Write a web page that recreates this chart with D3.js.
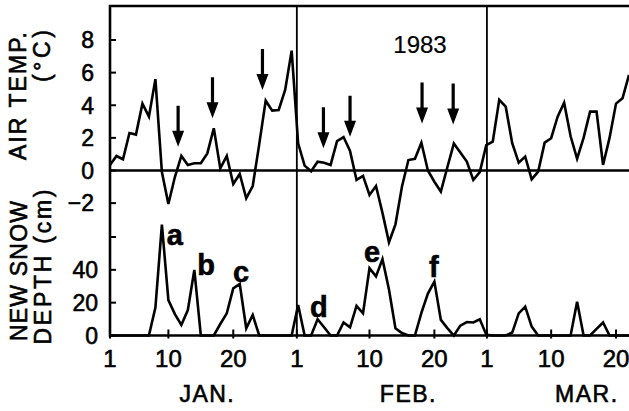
<!DOCTYPE html>
<html>
<head>
<meta charset="utf-8">
<script src="https://cdn.jsdelivr.net/npm/d3@7"></script>
<style>
  body { margin: 0; background: #fff; }
  svg { display: block; font-family: "Liberation Sans", Arial, sans-serif; }
  text { stroke: #000; stroke-width: 0.6px; }
</style>
</head>
<body>
<svg width="629" height="411"></svg>
<script>
// daily values, index 0 = Jan 1 ... index 80 = Mar 22
const airTemp = [
  0.34, 0.89, 0.69, 2.3, 2.2, 4.1, 3.3, 5.6, -0.1, -2.05,
  -0.4, 0.89, 0.34, 0.44, 0.44, 1.05, 2.59, 0.13, 0.89, -0.83,
  -0.21, -1.7, -0.95, 1.6, 4.28, 3.67, 3.71, 4.94, 7.35, 1.67,
  0.3, -0.05, 0.54, 0.48, 0.34, 1.8, 2.05, 1.2, -0.58, -0.33,
  -1.5, -0.95, -2.6, -4.4, -3.3, -1.0, 0.64, 0.72, 1.7, 0.0,
  -0.69, -1.3, 0.2, 1.65, 1.1, 0.55, -0.58, -0.1, 1.56, 1.77,
  4.33, 3.91, 1.67, 0.48, 0.85, -0.54, -0.07, 1.71, 1.98, 3.3,
  4.16, 2.1, 0.72, 2.0, 3.61, 3.61, 0.34, 2.0, 4.1, 4.43, 5.86
];
const snowDepth = [
  0, 0, 0, 0, 0, 0, 0, 17, 67.5, 21.6,
  13, 6.4, 15.5, 40, 0, 0, 0, 7, 13.5, 28.7,
  31.4, 4.4, 12.5, 0, 0, 0, 0, 0, 0, 18.6,
  0, 0, 9.9, 5, 0, 0, 7.9, 5, 18, 13.5,
  41, 36, 46.5, 28, 4.4, 1.5, 0, 0, 13.8, 25.5,
  32.8, 9.5, 4.5, 0, 6, 8.2, 7.9, 9.9, 0.5, 0,
  0, 0, 1.8, 13.5, 17.6, 5.4, 0, 0, 0, 0,
  0, 0, 20.6, 0, 0, 4, 7.9, 0, 0, 0, 0
];
const days = d3.range(airTemp.length);

// x axis: tick positions (day index) and labels
const xTickDays = [0, 9, 19, 28.8, 40, 50, 58.1, 68, 78];
const xTickLabels = ["1", "10", "20", "1", "10", "20", "1", "10", "20"];
const monthLineDays = [28.8, 58.1];
const monthNames = ["JAN.", "FEB.", "MAR."];
const monthNameDays = [15, 46, 73.5];

const tempTicks = [-2, 0, 2, 4, 6, 8];
const snowTicks = [0, 20, 40, 60];
const snowTickLabels = ["0", "20", "40", ""];

// arrows marking warm events (day, temperature at arrow tip)
const arrowDays = [10.5, 15.8, 23.5, 32.9, 37, 48.1, 52.9];
const arrowTipTemp = [1.46, 3.2, 4.94, 1.36, 2.07, 2.88, 2.82];

// snowfall event letters (day, depth at letter baseline)
const eventLetters = ["a", "b", "c", "d", "e", "f"];
const eventDays = [10, 14.8, 20.2, 32.2, 40.4, 49.9];
const eventCm = [55.2, 36.9, 32.6, 11.3, 44.8, 35.7];

const svg = d3.select("svg");
const mLeft = 110, mRight = 629, mTop = 6, mBottom = 335.5;

const x = d3.scaleLinear().domain([0, 80]).range([mLeft, mRight]);
const yT = d3.scaleLinear().domain([0, 8]).range([170.5, 40]);
const yS = d3.scaleLinear().domain([0, 60]).range([mBottom, 237]);

// frame
svg.append("path")
  .attr("d", `M${mRight},${mTop}H${mLeft}V${mBottom}H${mRight}`)
  .attr("fill", "none").attr("stroke", "#000").attr("stroke-width", 2.6);
svg.append("line")
  .attr("x1", mLeft).attr("x2", mRight).attr("y1", yT(0)).attr("y2", yT(0))
  .attr("stroke", "#000").attr("stroke-width", 2.4);
svg.selectAll(".month")
  .data(monthLineDays)
  .enter().append("line")
  .attr("x1", d => x(d)).attr("x2", d => x(d))
  .attr("y1", mTop).attr("y2", mBottom)
  .attr("stroke", "#000").attr("stroke-width", 1.8);

// y ticks
svg.selectAll(".tt")
  .data(tempTicks)
  .enter().append("line")
  .attr("x1", mLeft).attr("x2", mLeft + 6)
  .attr("y1", d => yT(d)).attr("y2", d => yT(d))
  .attr("stroke", "#000").attr("stroke-width", 2);
svg.selectAll(".tl")
  .data(tempTicks)
  .enter().append("text")
  .attr("x", 94).attr("y", d => yT(d)).attr("dy", "0.36em")
  .attr("text-anchor", "end").attr("font-size", 23)
  .text(d => d < 0 ? "\u2212" + Math.abs(d) : d);
svg.selectAll(".st")
  .data(snowTicks)
  .enter().append("line")
  .attr("x1", mLeft).attr("x2", mLeft + 6)
  .attr("y1", d => yS(d)).attr("y2", d => yS(d))
  .attr("stroke", "#000").attr("stroke-width", 2);
svg.selectAll(".sl")
  .data(snowTicks)
  .enter().append("text")
  .attr("x", 98).attr("y", d => yS(d)).attr("dy", "0.36em")
  .attr("text-anchor", "end").attr("font-size", 23)
  .text((d, i) => snowTickLabels[i]);

// x ticks
svg.selectAll(".xt")
  .data(xTickDays)
  .enter().append("line")
  .attr("x1", d => x(d)).attr("x2", d => x(d))
  .attr("y1", mBottom - 6).attr("y2", mBottom + 3)
  .attr("stroke", "#000").attr("stroke-width", 2);
svg.selectAll(".xl")
  .data(xTickDays)
  .enter().append("text")
  .attr("x", d => x(d)).attr("y", 367)
  .attr("text-anchor", "middle").attr("font-size", 24)
  .text((d, i) => xTickLabels[i]);
svg.selectAll(".mn")
  .data(monthNames)
  .enter().append("text")
  .attr("x", (d, i) => x(monthNameDays[i])).attr("y", 402)
  .attr("text-anchor", "middle").attr("font-size", 23)
  .attr("letter-spacing", 1.5)
  .text(d => d);

// axis titles
function vtitle(txt, cx, cy, len) {
  svg.append("text")
    .attr("transform", `translate(${cx},${cy}) rotate(-90)`)
    .attr("text-anchor", "middle").attr("font-size", 23)
    .attr("textLength", len).attr("lengthAdjust", "spacing")
    .text(txt);
}
vtitle("AIR TEMP.", 26, 96, 128);
vtitle("(\u00b0C)", 50, 56, 52);
vtitle("NEW SNOW", 27, 271, 140);
vtitle("DEPTH (cm)", 51, 267, 155);

svg.append("text")
  .attr("x", 420).attr("y", 53)
  .attr("text-anchor", "middle").attr("font-size", 24)
  .style("stroke-width", "0.2px")
  .text("1983");

// data lines
const tempLine = d3.line().x(d => x(d)).y(d => yT(airTemp[d]));
const snowLine = d3.line().x(d => x(d)).y(d => yS(snowDepth[d]));
svg.append("path")
  .attr("d", tempLine(days))
  .attr("fill", "none").attr("stroke", "#000")
  .attr("stroke-width", 2.6).attr("stroke-linejoin", "miter");
svg.append("path")
  .attr("d", snowLine(days))
  .attr("fill", "none").attr("stroke", "#000")
  .attr("stroke-width", 2.6).attr("stroke-linejoin", "miter");

// arrows
const arrowLen = 41, headLen = 16, headW = 6, shaftW = 3.2;
svg.selectAll(".arrow")
  .data(arrowDays)
  .enter().append("path")
  .attr("d", (d, i) => {
    const ax = x(d), tip = yT(arrowTipTemp[i]);
    const t = tip - arrowLen, h = tip - headLen;
    return `M${ax - shaftW / 2},${t}H${ax + shaftW / 2}V${h}H${ax + headW}L${ax},${tip}L${ax - headW},${h}H${ax - shaftW / 2}Z`;
  })
  .attr("fill", "#000");

// event letters
svg.selectAll(".ev")
  .data(eventLetters)
  .enter().append("text")
  .attr("x", (d, i) => x(eventDays[i])).attr("y", (d, i) => yS(eventCm[i]))
  .attr("text-anchor", "middle").attr("font-size", 29).attr("font-weight", "bold")
  .text(d => d);
</script>
</body>
</html>
